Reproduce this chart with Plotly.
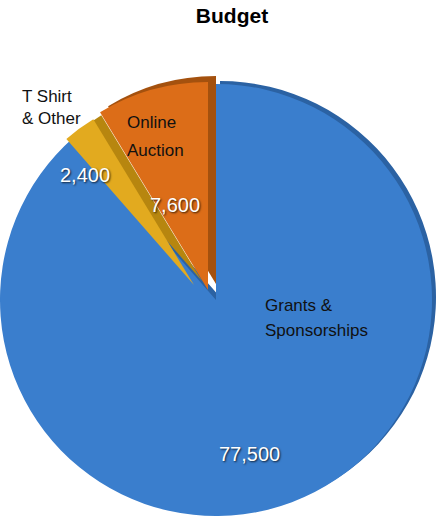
import plotly.graph_objects as go

# ---- data ----
categories = ["Grants & Sponsorships", "T Shirt & Other", "Online Auction"]
values = [77500, 2400, 7600]
label_lines = [["Grants &", "Sponsorships"], ["T Shirt", "& Other"], ["Online", "Auction"]]

# ---- styling ----
W, H = 437, 517
FONT = "Liberation Sans, Arial, Helvetica, sans-serif"
TRANSP = "rgba(0,0,0,0)"
front_colors = ["#3a7ecd", "#e2aa1f", "#dc6d18"]
side_colors = ["#2b62a3", "#b7860f", "#a4510e"]


def dom(cx, cy, r):
    """pie domain (paper fractions) for a circle centred at pixel (cx, cy) with radius r"""
    return dict(x=[max(0, (cx - r) / W), min(1, (cx + r) / W)],
                y=[max(0, (H - cy - r) / H), min(1, (H - cy + r) / H)])


# pixel geometry of each slice (centre x, centre y, radius) - layout only
geom = {
    0: (216, 300, 216),   # Grants
    1: (194, 285, 194),   # T shirt (exploded)
    2: (208, 290, 208),   # Online auction (exploded)
}
side_offset = {0: (4, -3), 1: (8, -4), 2: (8, -6)}
draw_order = [0, 1, 2]

fig = go.Figure()
for idx in draw_order:
    cx, cy, r = geom[idx]
    dx, dy = side_offset[idx]
    # darker "side" of the slice for a 3-D look
    cols = [side_colors[i] if i == idx else TRANSP for i in range(len(values))]
    fig.add_trace(go.Pie(
        values=values, sort=False, direction="clockwise",
        marker=dict(colors=cols, line=dict(width=0)),
        textinfo="none", hoverinfo="none", showlegend=False,
        domain=dom(cx + dx, cy + dy, r),
    ))
    cols = [front_colors[i] if i == idx else TRANSP for i in range(len(values))]
    fig.add_trace(go.Pie(
        labels=categories, values=values, sort=False, direction="clockwise",
        marker=dict(colors=cols, line=dict(width=0)),
        textinfo="none", hoverinfo="label+value", showlegend=False,
        domain=dom(cx, cy, r),
    ))

# value labels (text from the data)
value_pos = {0: (249, 454), 1: (85, 175), 2: (175, 205)}
for i, v in enumerate(values):
    x, y = value_pos[i]
    fig.add_annotation(
        x=x / W, y=(H - y) / H, xref="paper", yref="paper", text=f"{v:,}", showarrow=False,
        xanchor="center", yanchor="middle",
        font=dict(family=FONT, size=20, color="white", shadow="1px 1px 2px rgba(0,0,0,0.75)"),
    )

# category labels, one annotation per line
label_pos = {0: (263, [305, 330]), 1: (20, [97, 118]), 2: (125, [123, 150])}
for i, lines in enumerate(label_lines):
    x, ys = label_pos[i]
    for line, y in zip(lines, ys):
        fig.add_annotation(
            x=x / W, y=(H - y) / H, xref="paper", yref="paper", text=line, showarrow=False,
            xanchor="left", yanchor="middle", align="left",
            font=dict(family=FONT, size=17, color="#111"),
        )

fig.update_layout(
    width=W, height=H, margin=dict(l=0, r=0, t=0, b=0),
    paper_bgcolor="white", plot_bgcolor="white",
    title=dict(text="<b>Budget</b>", x=232 / W, xanchor="center", y=1 - 16 / H, yanchor="middle",
               font=dict(family=FONT, size=21, color="black")),
)

fig.write_html("out.html")
